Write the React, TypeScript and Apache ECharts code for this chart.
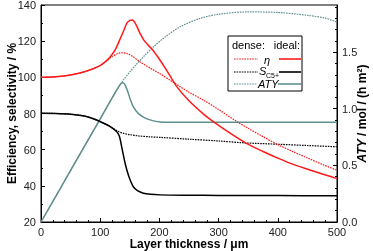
import React, { useEffect, useRef } from "react";
import * as echarts from "echarts";

// Efficiency η (%), dense vs ideal
const etaDenseX = [0, 25, 50, 75, 100, 110, 120, 130, 136, 145, 155, 167, 185, 201, 220, 235, 250, 275, 300, 331, 350, 375, 401, 425, 450, 475, 500];
const etaDenseY = [100, 100.3, 101.3, 103.2, 106.5, 109, 111.5, 113.2, 113.6, 113.2, 111.5, 108.6, 105, 102, 98, 94.8, 91.8, 87.3, 82.2, 75.5, 71.8, 67.2, 62.6, 59, 55.4, 51.9, 48.6];
const etaIdealX = [0, 25, 50, 75, 100, 110, 116, 125, 133, 140, 145, 150, 154, 158, 163, 167, 175, 189, 200, 212, 229, 250, 275, 291, 320, 347, 375, 401, 425, 454, 475, 500];
const etaIdealY = [100, 100.3, 101.3, 103.2, 106.5, 109, 111, 115, 120.7, 126, 130, 131.5, 131.7, 130.5, 127.5, 124.5, 120, 115, 110, 104, 95, 87, 79.5, 75.5, 69, 63.5, 59, 55.2, 52, 48.8, 46.5, 44];

// Selectivity S_C5+ (%)
const sDenseX = [0, 25, 50, 75, 94, 117, 131, 140, 150, 165, 184, 201, 250, 300, 342, 400, 450, 500];
const sDenseY = [80.1, 80, 79.6, 78.5, 76.4, 72.7, 70, 69, 68.3, 67.6, 67.1, 66.8, 65.8, 64.8, 63.8, 63, 62.3, 61.6];
const sIdealX = [0, 25, 50, 75, 94, 117, 131, 136, 141, 145, 150, 156, 163, 173, 185, 201, 250, 300, 400, 500];
const sIdealY = [80.1, 80, 79.6, 78.5, 76.4, 72.7, 68.5, 62, 54, 48.8, 43.8, 39.5, 37.3, 35.9, 35.3, 35, 34.8, 34.7, 34.6, 34.5];

// ATY (mol / (h m²))
const atyDenseX = [0, 50, 100, 125, 133, 140, 150, 160, 175, 190, 210, 235, 269, 302, 350, 400, 450, 480, 500];
const atyDenseY = [0, 0.455, 0.91, 1.14, 1.205, 1.26, 1.325, 1.385, 1.47, 1.547, 1.635, 1.724, 1.798, 1.836, 1.855, 1.85, 1.825, 1.8, 1.765];
const atyIdealX = [0, 50, 100, 125, 132, 137, 141, 146, 151, 156, 165, 178, 190, 201, 250, 300, 400, 500];
const atyIdealY = [0, 0.455, 0.91, 1.14, 1.2, 1.23, 1.22, 1.16, 1.08, 1.016, 0.955, 0.913, 0.893, 0.883, 0.88, 0.88, 0.88, 0.88];

const xTicks = [0, 100, 200, 300, 400, 500];
const rightMajor = [0, 0.5, 1.0, 1.5];
const rightMinor = [0.1, 0.2, 0.3, 0.4, 0.6, 0.7, 0.8, 0.9, 1.1, 1.2, 1.3, 1.4, 1.6, 1.7, 1.8, 1.9];

const RED = "#ff1a1a";
const BLACK = "#000000";
const GRAY = "#5f8f8f";
const FONT = "Liberation Sans, Arial, sans-serif";

const pairs = (xs: number[], ys: number[]) => xs.map((x, i) => [x, ys[i]]);

export default function App() {
  const ref = useRef<HTMLDivElement>(null);
  useEffect(() => {
    if (!ref.current) return;
    const chart = echarts.init(ref.current, undefined, { renderer: "svg" });
    const dotted = [1.6, 1];
    const label = { color: "#222", fontFamily: FONT, fontSize: 11 };
    const sample = (x1: number, x2: number, y: number, color: string, dash: any) => ({
      type: "line",
      shape: { x1, y1: y, x2, y2: y },
      style: { stroke: color, lineWidth: dash ? 1.2 : 1.6, lineDash: dash || null },
      z: 101,
    });
    const txt = (x: number, y: number, text: string, font: string, align = "left") => ({
      type: "text", x, y, z: 101,
      style: { text, font, fill: "#000", verticalAlign: "middle", align },
    });
    chart.setOption({
      animation: false,
      grid: {
        left: 41, right: 36, top: 5, bottom: 29, show: true, borderColor: "#000", borderWidth: 1,
        backgroundColor: "transparent", containLabel: false, outerBoundsMode: "none",
      },
      xAxis: {
        type: "value", min: 0, max: 500, interval: 100,
        name: "Layer thickness / μm", nameLocation: "middle", nameGap: 16, nameMoveOverlap: false,
        nameTextStyle: { fontFamily: FONT, fontSize: 12, fontWeight: "bold", color: "#000" },
        axisLine: { lineStyle: { color: "#000", width: 1 } },
        axisTick: { inside: true, length: 4, lineStyle: { color: "#000" } },
        minorTick: { show: true, splitNumber: 5, length: 2, lineStyle: { color: "#000" } },
        axisLabel: { ...label, margin: 4, customValues: xTicks },
        splitLine: { show: false },
      },
      yAxis: [
        {
          type: "value", min: 20, max: 140, interval: 20, position: "left",
          name: "Efficiency, selectivity / %", nameLocation: "middle", nameGap: 23, nameRotate: 90, nameMoveOverlap: false,
          nameTextStyle: { fontFamily: FONT, fontSize: 12, fontWeight: "bold", color: "#000" },
          axisLine: { show: true, lineStyle: { color: "#000", width: 1 } },
          axisTick: { inside: true, length: 4, lineStyle: { color: "#000" } },
          minorTick: { show: true, splitNumber: 2, length: 2, lineStyle: { color: "#000" } },
          axisLabel: { ...label, margin: 5 },
          splitLine: { show: false },
        },
        {
          type: "value", min: 0, max: 1.916, interval: 0.5, position: "right",
          name: "{i|ATY} / mol / (h m²)", nameLocation: "middle", nameGap: 19, nameRotate: 90, nameMoveOverlap: false,
          nameTextStyle: {
            fontFamily: FONT, fontSize: 12, fontWeight: "bold", color: "#000",
            rich: { i: { fontFamily: FONT, fontSize: 12, fontWeight: "bold", fontStyle: "italic", color: "#000" } },
          },
          axisLine: { show: true, lineStyle: { color: "#000", width: 1 } },
          axisTick: { inside: true, length: 4, customValues: rightMajor, lineStyle: { color: "#000" } },
          axisLabel: { ...label, margin: 5, customValues: rightMajor, formatter: (v: number) => v.toFixed(1) },
          splitLine: { show: false },
        },
        {
          type: "value", min: 0, max: 1.916, position: "right",
          axisLine: { show: false },
          axisTick: { show: true, inside: true, length: 2, customValues: rightMinor, lineStyle: { color: "#000" } },
          axisLabel: { show: false },
          splitLine: { show: false },
        },
      ],
      series: [
        { type: "line", name: "ATY dense", yAxisIndex: 1, data: pairs(atyDenseX, atyDenseY), smooth: 0.3, symbol: "none", lineStyle: { color: GRAY, width: 1.2, type: dotted } },
        { type: "line", name: "ATY ideal", yAxisIndex: 1, data: pairs(atyIdealX, atyIdealY), smooth: 0.3, symbol: "none", lineStyle: { color: GRAY, width: 1.5 } },
        { type: "line", name: "S dense", yAxisIndex: 0, data: pairs(sDenseX, sDenseY), smooth: 0.3, symbol: "none", lineStyle: { color: BLACK, width: 1.2, type: dotted } },
        { type: "line", name: "S ideal", yAxisIndex: 0, data: pairs(sIdealX, sIdealY), smooth: 0.3, symbol: "none", lineStyle: { color: BLACK, width: 1.5 } },
        { type: "line", name: "eta dense", yAxisIndex: 0, data: pairs(etaDenseX, etaDenseY), smooth: 0.3, symbol: "none", lineStyle: { color: RED, width: 1.2, type: dotted } },
        { type: "line", name: "eta ideal", yAxisIndex: 0, data: pairs(etaIdealX, etaIdealY), smooth: 0.3, symbol: "none", lineStyle: { color: RED, width: 1.5 } },
      ],
      graphic: [
        { type: "rect", shape: { x: 228, y: 36, width: 74, height: 55 }, style: { fill: "#fff", stroke: "#000", lineWidth: 1 }, z: 100 },
        txt(232, 45, "dense:", `11px ${FONT}`),
        txt(300, 45, "ideal:", `11px ${FONT}`, "right"),
        sample(234, 258, 59, RED, [1.6, 1]),
        txt(267, 60, "η", `italic 11px ${FONT}`, "center"),
        sample(279, 301, 59, RED, null),
        sample(234, 258, 72, BLACK, [1.6, 1]),
        txt(259, 71, "S", `italic 11px ${FONT}`),
        txt(266, 75, "C5+", `7px ${FONT}`),
        sample(279, 301, 72, BLACK, null),
        sample(234, 257, 84, GRAY, [1.6, 1]),
        txt(258, 84, "ATY", `italic 11px ${FONT}`),
        sample(278, 301, 84, GRAY, null),
      ],
    });
    return () => chart.dispose();
  }, []);
  return <div ref={ref} style={{ position: "fixed", left: 0, top: 0, width: 373, height: 251 }} />;
}
